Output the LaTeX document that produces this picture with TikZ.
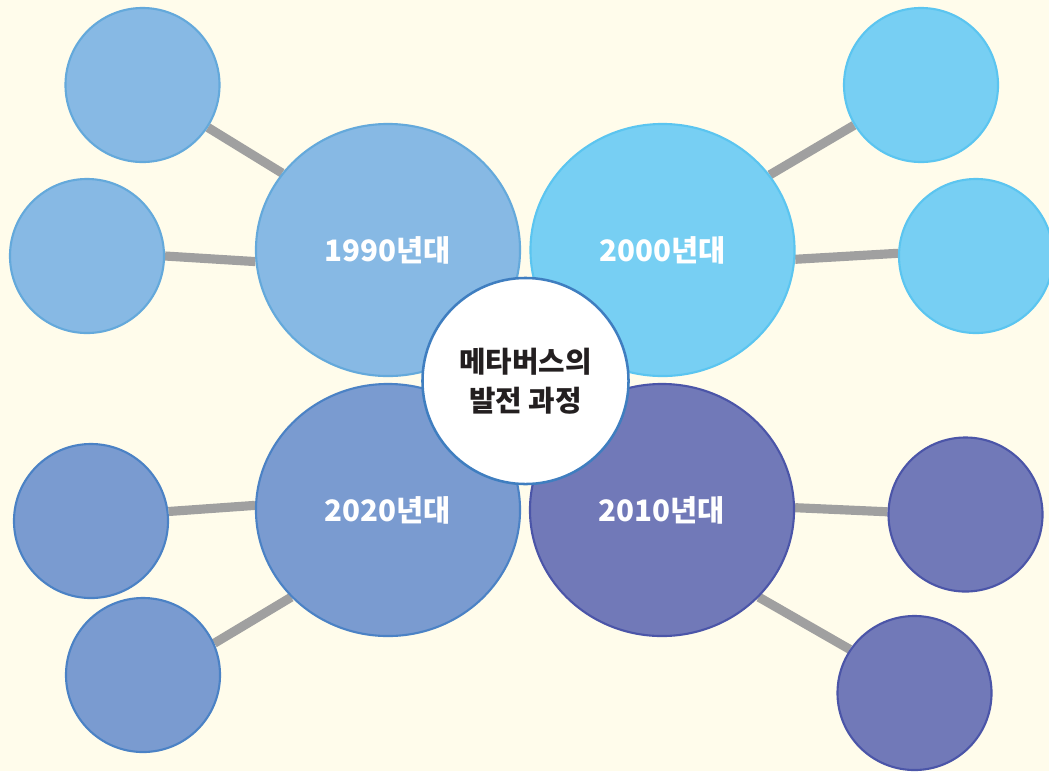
\documentclass[tikz,border=0pt]{standalone}
\usepackage{fontspec}
\newfontfamily\kr{Noto Sans CJK KR}
\usetikzlibrary{shapes.geometric,backgrounds}
\definecolor{bgc}{HTML}{FFFCEB}
\definecolor{linec}{HTML}{A0A0A0}
\definecolor{fa}{HTML}{87B9E4}\definecolor{da}{HTML}{64A9DB}
\definecolor{fb}{HTML}{77CFF3}\definecolor{db}{HTML}{5BC5F0}
\definecolor{fc}{HTML}{7A9BD0}\definecolor{dc}{HTML}{4B82C5}
\definecolor{fd}{HTML}{7179B8}\definecolor{dd}{HTML}{4B55A8}
\definecolor{cb}{HTML}{3F7EC0}
\definecolor{txt}{HTML}{231F20}
\tikzset{
  bigc/.style={ellipse, minimum width=6.6cm, minimum height=6.3cm, line width=1.5pt, inner sep=0pt,
    text=white, font=\kr\bfseries\fontsize{21}{25}\selectfont},
  smallc/.style={circle, minimum size=3.85cm, line width=1.5pt, inner sep=0pt},
  centerc/.style={circle, minimum size=5.15cm, line width=1.8pt, draw=cb, fill=white, inner sep=0pt,
    align=center, text=txt, font=\kr\bfseries\fontsize{20.5}{28}\selectfont},
  conn/.style={draw=linec, line width=6.5pt}
}
\begin{document}
\begin{tikzpicture}[x=0.025cm,y=-0.025cm]
\useasboundingbox (0,0) rectangle (1049,771);
% big circles
\node[bigc, fill=fa, draw=da] (b1) at (388,250) {1990년대};
\node[bigc, fill=fb, draw=db] (b2) at (662.5,250) {2000년대};
\node[bigc, fill=fc, draw=dc] (b3) at (388,510) {2020년대};
\node[bigc, fill=fd, draw=dd] (b4) at (662,510) {2010년대};
% small circles
\node[smallc, fill=fa, draw=da] (s1) at (142.5,85) {};
\node[smallc, fill=fa, draw=da] (s2) at (87,256) {};
\node[smallc, fill=fb, draw=db] (s3) at (921,85) {};
\node[smallc, fill=fb, draw=db] (s4) at (976,256) {};
\node[smallc, fill=fc, draw=dc] (s5) at (91,521) {};
\node[smallc, fill=fc, draw=dc] (s6) at (143,675) {};
\node[smallc, fill=fd, draw=dd] (s7) at (965.5,514.5) {};
\node[smallc, fill=fd, draw=dd] (s8) at (914.5,693) {};
% center
\node[centerc] (c) at (525.5,381) {메타버스의\\발전 과정};
\begin{pgfonlayer}{background}
\fill[bgc] (0,0) rectangle (1049,771);
\draw[conn] (s1.-33.7) -- (b1.144.5);
\draw[conn] (s2.0) -- (b1.-175.2);
\draw[conn] (s5.7.2) -- (b3.178.3);
\draw[conn] (s6.24.9) -- (b3.-138.1);
\draw[conn] (b2.35.6) -- (s3.-149.3);
\draw[conn] (b2.-4.7) -- (s4.178.5);
\draw[conn] (b4.1.3) -- (s7.178.2);
\draw[conn] (b4.-42.6) -- (s8.146.3);
\end{pgfonlayer}
\end{tikzpicture}
\end{document}
